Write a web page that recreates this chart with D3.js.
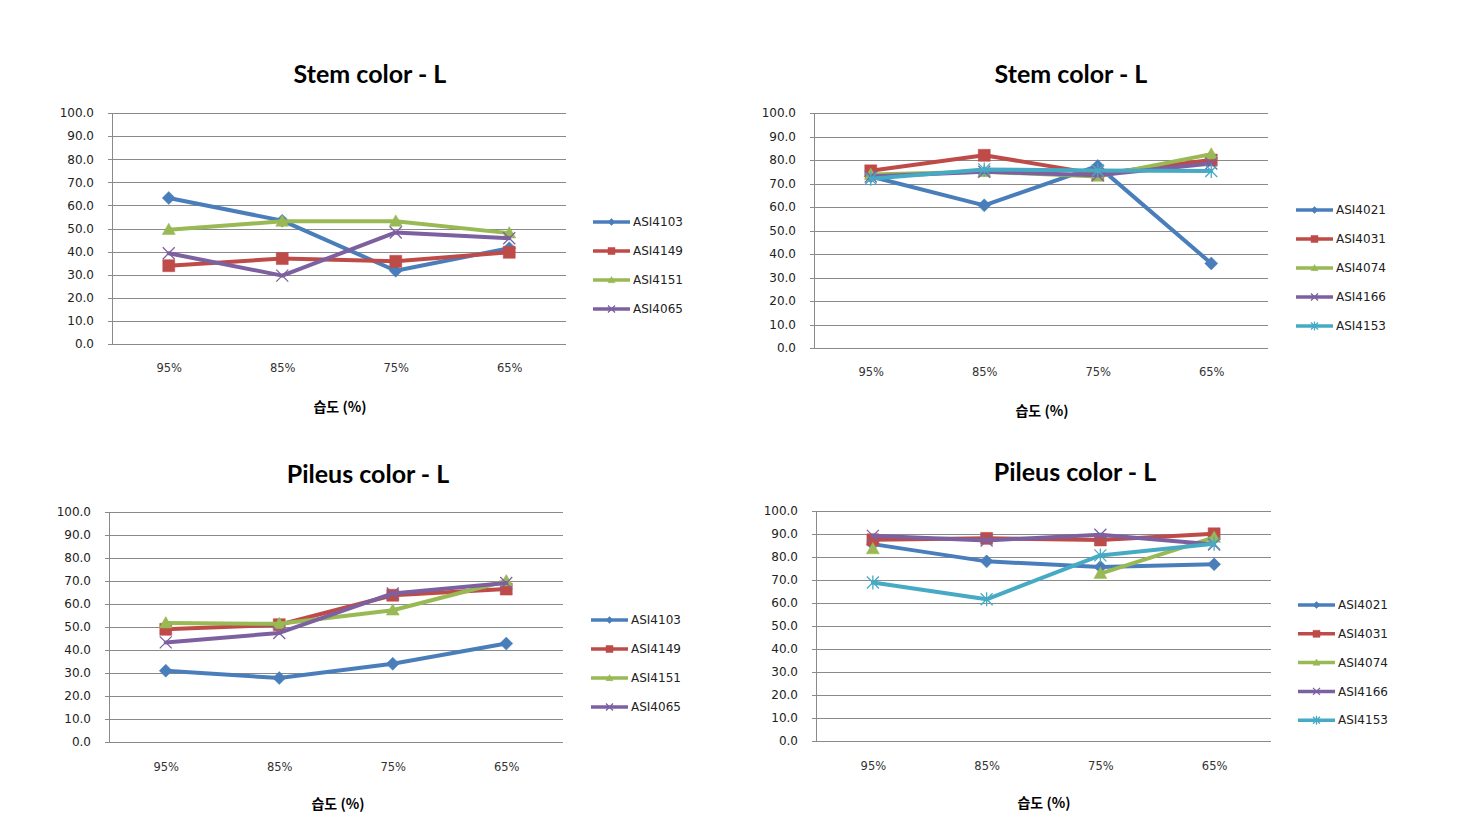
<!DOCTYPE html>
<html><head><meta charset="utf-8">
<script src="https://cdn.jsdelivr.net/npm/d3@7"></script>
<style>
body{margin:0;background:#fff;}
svg{display:block;}
</style></head>
<body>
<svg id="c" width="1461" height="837"></svg>
<script>
// ---- data ----
const categories = ["95%", "85%", "75%", "65%"];
const yTicks = [0, 10, 20, 30, 40, 50, 60, 70, 80, 90, 100];
const xTitle = "습도 (%)";

const stemLeftTitle = "Stem color - L";
const stemLeftNames = ["ASI4103", "ASI4149", "ASI4151", "ASI4065"];
const stemLeft_ASI4103 = [63.2, 53.4, 31.7, 41.5];
const stemLeft_ASI4149 = [33.9, 37.0, 35.8, 39.7];
const stemLeft_ASI4151 = [49.5, 53.1, 53.1, 48.0];
const stemLeft_ASI4065 = [39.3, 29.6, 48.3, 45.8];

const stemRightTitle = "Stem color - L";
const stemRightNames = ["ASI4021", "ASI4031", "ASI4074", "ASI4166", "ASI4153"];
const stemRight_ASI4021 = [73.0, 60.7, 77.5, 36.0];
const stemRight_ASI4031 = [75.4, 82.0, 74.0, 80.0];
const stemRight_ASI4074 = [73.8, 75.0, 73.0, 82.5];
const stemRight_ASI4166 = [73.0, 75.0, 73.5, 78.5];
const stemRight_ASI4153 = [72.0, 76.0, 75.5, 75.3];

const pileusLeftTitle = "Pileus color - L";
const pileusLeftNames = ["ASI4103", "ASI4149", "ASI4151", "ASI4065"];
const pileusLeft_ASI4103 = [31.0, 27.8, 34.0, 42.8];
const pileusLeft_ASI4149 = [49.0, 51.0, 63.8, 66.5];
const pileusLeft_ASI4151 = [51.7, 51.4, 57.3, 70.0];
const pileusLeft_ASI4065 = [43.3, 47.4, 64.6, 69.1];

const pileusRightTitle = "Pileus color - L";
const pileusRightNames = ["ASI4021", "ASI4031", "ASI4074", "ASI4166", "ASI4153"];
const pileusRight_ASI4021 = [85.6, 78.1, 75.7, 76.8];
const pileusRight_ASI4031 = [87.5, 88.1, 87.4, 90.1];
const pileusRight_ASI4074 = [83.5, null, 72.8, 88.5];
const pileusRight_ASI4166 = [89.2, 87.2, 89.7, 85.4];
const pileusRight_ASI4153 = [68.9, 61.6, 80.7, 85.8];

const seriesColors = ["#4A7EBB", "#BE4B48", "#98B954", "#7D60A0", "#46AAC5"];
const seriesMarkers = ["diamond", "square", "triangle", "x", "star"];

// ---- panels ----
const panels = [
  {title: stemLeftTitle, names: stemLeftNames,
   values: [stemLeft_ASI4103, stemLeft_ASI4149, stemLeft_ASI4151, stemLeft_ASI4065],
   x0: 112, x1: 566, yT: 113, yB: 344, titleX: 370, titleY: 74, catY: 368, axTX: 340, axTY: 407,
   legX: 593, legY0: 222, legDy: 29},
  {title: stemRightTitle, names: stemRightNames,
   values: [stemRight_ASI4021, stemRight_ASI4031, stemRight_ASI4074, stemRight_ASI4166, stemRight_ASI4153],
   x0: 814, x1: 1268, yT: 113, yB: 348, titleX: 1071, titleY: 74, catY: 372, axTX: 1042, axTY: 411,
   legX: 1296, legY0: 210, legDy: 29},
  {title: pileusLeftTitle, names: pileusLeftNames,
   values: [pileusLeft_ASI4103, pileusLeft_ASI4149, pileusLeft_ASI4151, pileusLeft_ASI4065],
   x0: 109, x1: 563, yT: 512, yB: 742, titleX: 368, titleY: 474, catY: 767, axTX: 338, axTY: 804,
   legX: 591, legY0: 620, legDy: 29},
  {title: pileusRightTitle, names: pileusRightNames,
   values: [pileusRight_ASI4021, pileusRight_ASI4031, pileusRight_ASI4074, pileusRight_ASI4166, pileusRight_ASI4153],
   x0: 816, x1: 1271, yT: 511, yB: 741, titleX: 1075, titleY: 472, catY: 766, axTX: 1044, axTY: 803,
   legX: 1298, legY0: 605, legDy: 28.8}
];

const svg = d3.select("#c");
const baseFont = "'DejaVu Sans', 'Noto Sans', sans-serif";
const krFont = "'Noto Sans CJK KR', 'DejaVu Sans', sans-serif";

function markerPath(type, s) {
  const h = s / 2;
  switch (type) {
    case "diamond": return `M0,${-h}L${h},0L0,${h}L${-h},0Z`;
    case "square": return `M${-h},${-h}H${h}V${h}H${-h}Z`;
    case "triangle": return `M0,${-h}L${h},${h*0.75}L${-h},${h*0.75}Z`;
    case "x": return `M${-h},${-h}L${h},${h}M${h},${-h}L${-h},${h}`;
    case "star": return `M${-h},${-h}L${h},${h}M${h},${-h}L${-h},${h}M0,${-h-1}V${h+1}`;
  }
}
function drawMarker(g, type, color, x, y, s) {
  const p = g.append("path").attr("d", markerPath(type, s))
    .attr("transform", `translate(${x},${y})`);
  if (type === "x" || type === "star") {
    p.attr("fill", "none").attr("stroke", color).attr("stroke-width", 1.3);
  } else {
    p.attr("fill", color).attr("stroke", color).attr("stroke-width", 0.5);
  }
}
const markerSizes = {diamond: 13, square: 12, triangle: 13, x: 12, star: 12};

panels.forEach(P => {
  const g = svg.append("g");
  const x = d3.scalePoint().domain(categories).range([P.x0, P.x1]).padding(0.5);
  const y = d3.scaleLinear().domain([0, 100]).range([P.yB, P.yT]);

  // gridlines
  g.append("g").attr("transform", `translate(${P.x0},0)`)
    .call(d3.axisLeft(y).tickValues(yTicks).tickSize(-(P.x1 - P.x0)).tickFormat(""))
    .call(a => a.select(".domain").remove())
    .call(a => a.selectAll("line").attr("stroke", "#8a8a8a").attr("stroke-width", 1).attr("shape-rendering", "crispEdges"));

  // y axis
  g.append("g").attr("transform", `translate(${P.x0},0)`)
    .call(d3.axisLeft(y).tickValues(yTicks).tickSize(4).tickPadding(14).tickFormat(d3.format(".1f")))
    .call(a => a.select(".domain").attr("stroke", "#8a8a8a").attr("shape-rendering", "crispEdges"))
    .call(a => a.selectAll("line").attr("stroke", "#8a8a8a").attr("shape-rendering", "crispEdges"))
    .call(a => a.selectAll("text").attr("fill", "#222").attr("font-size", 12).attr("font-family", baseFont));

  // x category labels
  g.append("g").attr("transform", `translate(0,${P.catY})`)
    .call(d3.axisBottom(x).tickSize(0).tickPadding(0))
    .call(a => a.select(".domain").remove())
    .call(a => a.selectAll("text").attr("dy", "0.35em").attr("fill", "#333").attr("font-size", 11.5).attr("font-family", baseFont));

  // title
  g.append("text").attr("x", P.titleX).attr("y", P.titleY).attr("text-anchor", "middle")
    .attr("dy", "0.35em").attr("font-family", "Lato, 'Open Sans', sans-serif").attr("font-weight", "bold")
    .attr("font-size", 25).attr("fill", "#000").text(P.title);

  // x axis title
  g.append("text").attr("x", P.axTX).attr("y", P.axTY).attr("text-anchor", "middle")
    .attr("dy", "0.35em").attr("font-family", krFont).attr("font-weight", "bold")
    .attr("font-size", 14).attr("fill", "#000").text(xTitle);

  // series
  P.values.forEach((vals, i) => {
    const color = seriesColors[i];
    const line = d3.line().defined(d => d != null)
      .x((d, j) => x(categories[j])).y(d => y(d));
    g.append("path").datum(vals).attr("d", line).attr("fill", "none")
      .attr("stroke", color).attr("stroke-width", 4).attr("stroke-linejoin", "round").attr("stroke-linecap", "round");
    vals.forEach((v, j) => {
      if (v == null) return;
      drawMarker(g, seriesMarkers[i], color, x(categories[j]), y(v), markerSizes[seriesMarkers[i]]);
    });
  });

  // legend
  P.names.forEach((n, i) => {
    const ly = P.legY0 + i * P.legDy;
    const color = seriesColors[i];
    g.append("line").attr("x1", P.legX).attr("x2", P.legX + 37).attr("y1", ly).attr("y2", ly)
      .attr("stroke", color).attr("stroke-width", 3.5);
    drawMarker(g, seriesMarkers[i], color, P.legX + 18.5, ly, 7);
    g.append("text").attr("x", P.legX + 40).attr("y", ly).attr("dy", "0.35em")
      .attr("font-family", baseFont).attr("font-size", 12).attr("fill", "#222").text(n);
  });
});
</script>
</body></html>
